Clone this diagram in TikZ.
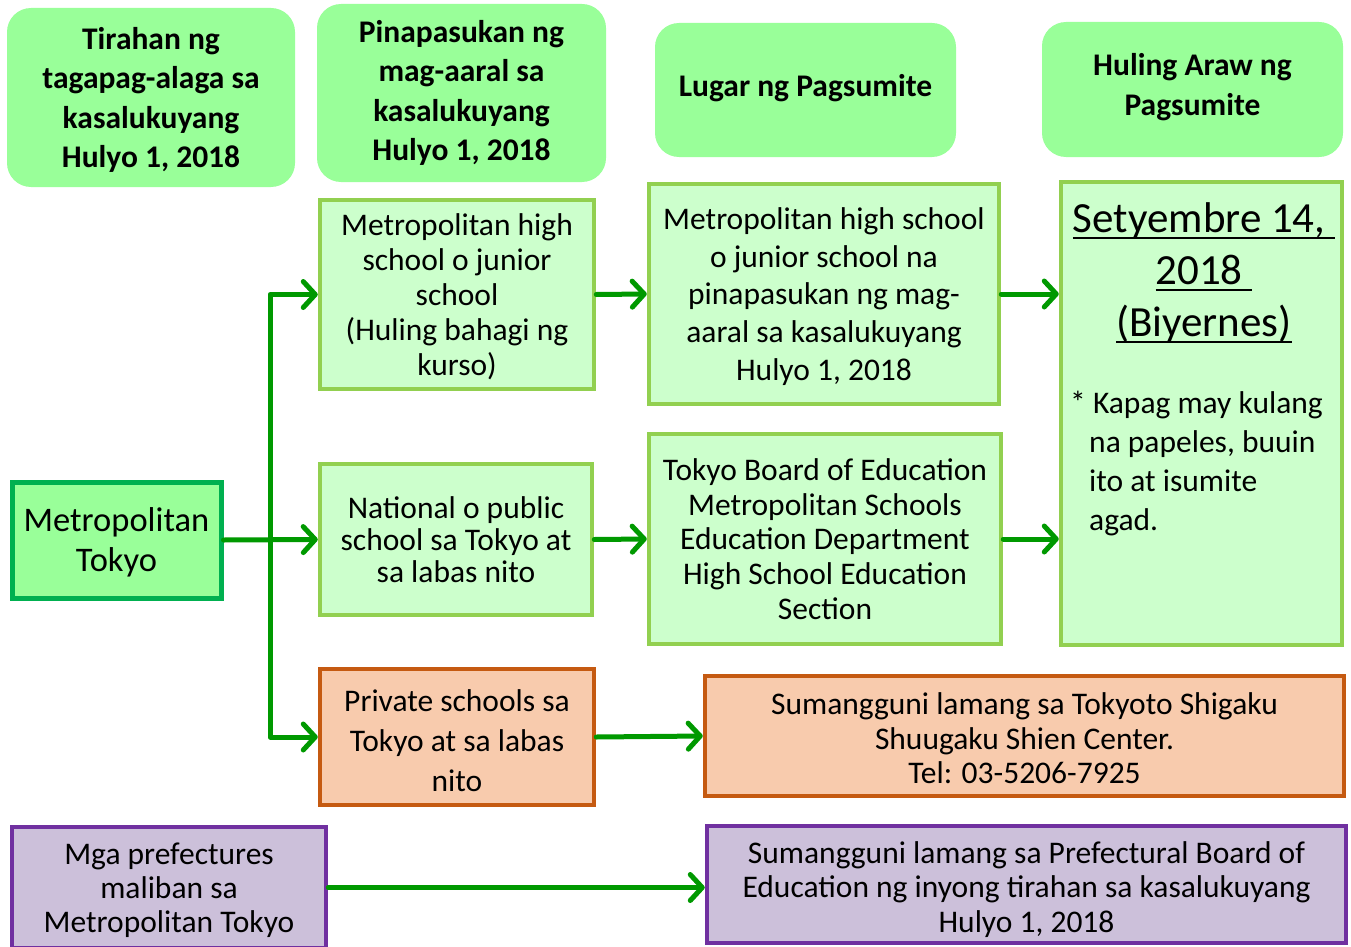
\documentclass[tikz,border=0pt]{standalone}
\usepackage{fontspec}
\setmainfont{Carlito}
\usetikzlibrary{arrows.meta}

\definecolor{hdrfill}{HTML}{99FF99}
\definecolor{metroedge}{HTML}{00B050}
\definecolor{lightfill}{HTML}{CCFFCC}
\definecolor{lightedge}{HTML}{92D050}
\definecolor{orangefill}{HTML}{F8CBAD}
\definecolor{orangeedge}{HTML}{C55A11}
\definecolor{purplefill}{HTML}{CCC0DA}
\definecolor{purpleedge}{HTML}{7030A0}
\definecolor{linkgreen}{HTML}{009900}

\newcommand\ulfixed[1]{\setbox0\hbox{#1}\rlap{\rule[-7pt]{\wd0}{2.5pt}}\box0}

\begin{document}
\begin{tikzpicture}[x=1pt, y=-1pt,
    hdr/.style={rectangle, fill=hdrfill, rounded corners=24pt, align=center, inner sep=0pt,
        font=\fontsize{31.5}{39.5}\selectfont\bfseries},
    metrobox/.style={rectangle, draw=metroedge, fill=hdrfill, line width=5pt, align=center, inner sep=0pt},
    lightbox/.style={rectangle, draw=lightedge, fill=lightfill, line width=4.5pt, align=center, inner sep=0pt},
    orangebox/.style={rectangle, draw=orangeedge, fill=orangefill, line width=4.5pt, align=center, inner sep=0pt},
    purplebox/.style={rectangle, draw=purpleedge, fill=purplefill, line width=4.5pt, align=center, inner sep=0pt},
    textdrop/.style={text depth=#1},
    link/.style={draw=linkgreen, line width=5pt, line cap=round, line join=round,
        -{Straight Barb[length=12pt, width=26pt, round]}}]

\fill[white] (0,0) rectangle (1351,947);
\useasboundingbox (0,0) rectangle (1351,947);

% column headings
\node[hdr, textdrop=-2pt, minimum width=288pt, minimum height=179pt] (hdrhome) at (151,97.5)
    {Tirahan ng\\tagapag-alaga sa\\kasalukuyang\\Hulyo 1, 2018};
\node[hdr, minimum width=289pt, minimum height=178pt] (hdrschool) at (461.5,93)
    {Pinapasukan ng\\mag-aaral sa\\kasalukuyang\\Hulyo 1, 2018};
\node[hdr, textdrop=10pt, minimum width=301pt, minimum height=134pt] (hdrplace) at (805.5,90)
    {Lugar ng Pagsumite};
\node[hdr, textdrop=10pt, minimum width=301pt, minimum height=135pt] (hdrdue) at (1192.5,89.5)
    {Huling Araw ng\\Pagsumite};

% boxes
\node[metrobox, textdrop=-2pt, minimum width=209pt, minimum height=116pt, font=\fontsize{34.5}{40}\selectfont] (metro) at (116.5,540)
    {Metropolitan\\Tokyo};
\node[lightbox, textdrop=-3pt, minimum width=274pt, minimum height=189pt, font=\fontsize{31.5}{35}\selectfont] (highsch) at (457,294.5)
    {Metropolitan high\\school o junior\\school\\(Huling bahagi ng\\kurso)};
\node[lightbox, textdrop=0pt, minimum width=350pt, minimum height=220pt, font=\fontsize{31.5}{37.8}\selectfont] (highdest) at (824,294)
    {Metropolitan high school\\o junior school na\\pinapasukan ng mag-\\aaral sa kasalukuyang\\Hulyo 1, 2018};
\node[lightbox, minimum width=272pt, minimum height=151pt, font=\fontsize{31.5}{32}\selectfont] (natsch) at (456,539.5)
    {National o public\\school sa Tokyo at\\sa labas nito};
\node[lightbox, minimum width=352pt, minimum height=210pt, font=\fontsize{31.5}{34.8}\selectfont] (natdest) at (825,539)
    {Tokyo Board of Education\\Metropolitan Schools\\Education Department\\High School Education\\Section};
\node[lightbox, minimum width=281pt, minimum height=463pt] (due) at (1201.5,413.5) {};
\node[orangebox, minimum width=274pt, minimum height=136pt, font=\fontsize{31.5}{40}\selectfont] (privsch) at (457,737)
    {\rule{0pt}{30pt}Private schools sa\\Tokyo at sa labas\\nito};
\node[orangebox, minimum width=639pt, minimum height=120pt, font=\fontsize{31.5}{34.5}\selectfont] (privdest) at (1024.5,736)
    {\rule{0pt}{27pt}Sumangguni lamang sa Tokyoto Shigaku\\Shuugaku Shien Center.\\Tel: 03-5206-7925};
\node[purplebox, textdrop=0pt, minimum width=314pt, minimum height=121pt, font=\fontsize{31.5}{34}\selectfont] (otherpref) at (169,887.5)
    {Mga prefectures\\maliban sa\\Metropolitan Tokyo};
\node[purplebox, textdrop=-3pt, minimum width=639pt, minimum height=117pt, font=\fontsize{31.5}{34.5}\selectfont] (otherdest) at (1026.5,884.5)
    {\rule{0pt}{26pt}Sumangguni lamang sa Prefectural Board of\\Education ng inyong tirahan sa kasalukuyang\\Hulyo 1, 2018};

% deadline text
\node[anchor=north, align=center, inner sep=0pt, font=\fontsize{43}{52}\selectfont] (duedate) at (1204,202)
    {\ulfixed{Setyembre 14,\ }\\\ulfixed{2018\ }\\\ulfixed{(Biyernes)}};
\node[anchor=north west, align=left, inner sep=0pt, font=\fontsize{31.5}{39}\selectfont] (duenote) at (1070,391)
    {* Kapag may kulang\\\hspace*{19pt}na papeles, buuin\\\hspace*{19pt}ito at isumite\\\hspace*{19pt}agad.};

% connectors
\coordinate (split) at (270,540);
\draw[link] (metro.east) -- (natsch.west);
\draw[link] (split) |- (highsch.west);
\draw[link] (split) |- (privsch.west);
\draw[link] (highsch.east) -- (highdest.west);
\draw[link] (highdest.east) -- (due.west |- highdest.east);
\draw[link] (natsch.east) -- (natdest.west);
\draw[link] (natdest.east) -- (due.west |- natdest.east);
\draw[link] (privsch.east) -- (privdest.west);
\draw[link] (otherpref.east) -- (otherdest.west |- otherpref.east);

\end{tikzpicture}
\end{document}
